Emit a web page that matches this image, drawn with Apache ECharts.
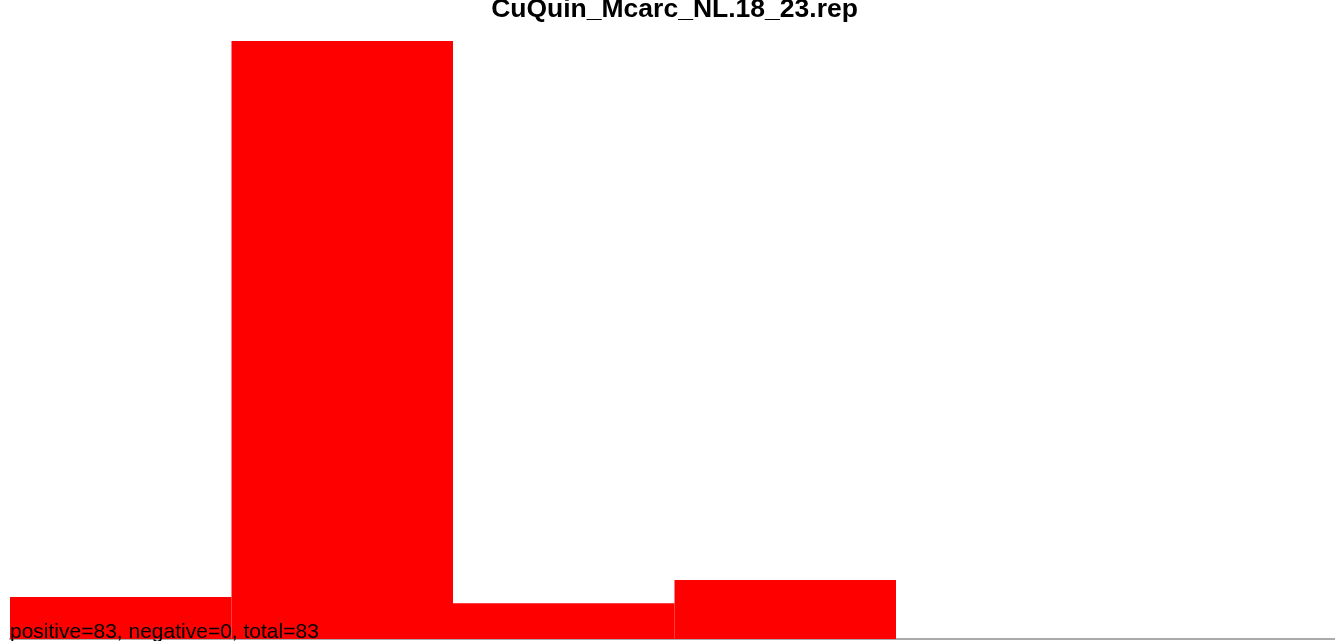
<!DOCTYPE html>
<html><head><meta charset="utf-8">
<script src="https://cdn.jsdelivr.net/npm/echarts@6/dist/echarts.min.js"></script>
<style>html,body{margin:0;padding:0;background:#fff;overflow:hidden}#c{width:1339px;height:641px}</style>
</head><body><div id="c"></div>
<script>
const categories = ['1', '2', '3', '4', '5', '6'];
const values = [4.7, 67, 4.0, 6.6, 0, 0];
const yMax = 67;
const titleText = 'CuQuin_Mcarc_NL.18_23.rep';
const footText = 'positive=83, negative=0, total=83';

const chart = echarts.init(document.getElementById('c'), null, {renderer: 'canvas'});
chart.setOption({
  animation: false,
  backgroundColor: '#ffffff',
  title: {
    text: titleText, left: 674.5, textAlign: 'center', top: -4, padding: 0,
    textStyle: {fontFamily: 'Liberation Sans, Arial, sans-serif', fontWeight: 'bold', fontSize: 26.5, color: '#000'}
  },
  grid: {left: 10, top: 41, right: 0, height: 598, containLabel: false},
  xAxis: {
    type: 'category', data: categories,
    axisLine: {show: true, lineStyle: {color: '#aaaaaa', width: 2}},
    axisTick: {show: false}, axisLabel: {show: false}, splitLine: {show: false}
  },
  yAxis: {
    type: 'value', min: 0, max: yMax,
    axisLine: {show: false}, axisTick: {show: false}, axisLabel: {show: false}, splitLine: {show: false}
  },
  series: [{
    type: 'bar', data: values, barCategoryGap: '0%',
    itemStyle: {color: '#ff0000'}
  }],
  graphic: [{
    type: 'text', left: 10, top: 622, z: 100,
    style: {text: footText, fontFamily: 'Liberation Sans, Arial, sans-serif', fontSize: 21, fill: '#000'}
  }]
});
</script></body></html>
